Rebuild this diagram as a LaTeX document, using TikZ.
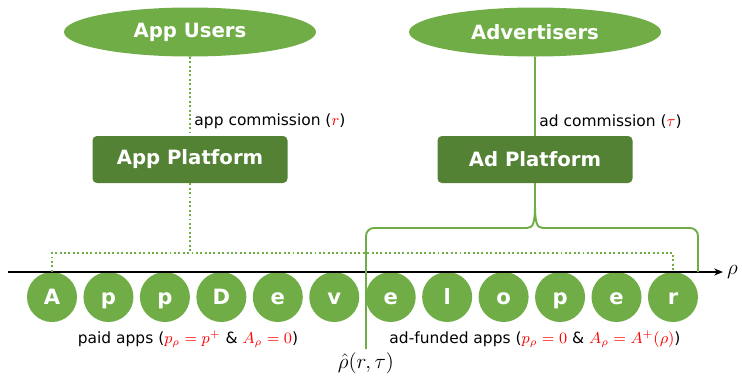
\documentclass[tikz,border=0pt]{standalone}
\usepackage{amsmath,amssymb}
\usepackage[no-math]{fontspec}
\setmainfont{DejaVu Sans}
\usetikzlibrary{shapes.geometric, arrows.meta, calc}
\definecolor{SSTgreen}{HTML}{70AD47}
\definecolor{SSTdark}{HTML}{548235}
\tikzset{
    sidegroup/.style={ellipse, fill=SSTgreen, text=white, inner sep=0pt,
        minimum width=5.04cm, minimum height=0.98cm,
        font=\bfseries\fontsize{11.2}{13}\selectfont},
    platform/.style={rectangle, rounded corners=2.5pt, fill=SSTdark, text=white,
        minimum width=3.9cm, minimum height=0.94cm, inner sep=0pt,
        font=\bfseries\fontsize{11.2}{13}\selectfont},
    devcircle/.style={circle, fill=SSTgreen, text=white, minimum size=1cm, inner sep=0pt,
        text height=8.4pt, text depth=0pt, font=\bfseries\fontsize{12}{13}\selectfont},
    appline/.style={SSTgreen, line width=1.1pt, dash pattern=on 1.1pt off 1.4pt},
    adline/.style={SSTgreen, line width=1.1pt},
    lbl/.style={text=black, font=\fontsize{8.8}{10}\selectfont, inner sep=1pt},
}

\begin{document}
\begin{tikzpicture}
    \useasboundingbox (0,0) rectangle (14.84,7.52);

    % ---- top row and platforms
    \node[sidegroup] (users)   at (3.80,6.88)  {App Users};
    \node[sidegroup] (advert)  at (10.70,6.88) {Advertisers};
    \node[platform]  (appplat) at (3.80,4.33)  {App Platform};
    \node[platform]  (adplat)  at (10.70,4.33) {Ad Platform};

    % ---- developers
    \foreach \l [count=\i] in {A,p,p,D,e,v,e,l,o,p,e,r}{
        \node[devcircle] (c\i) at ({1.04+1.129*(\i-1)},1.58) {\l};
    }

    \coordinate (ax0)     at (0.16,2.08);
    \coordinate (ax1)     at (14.46,2.08);
    \coordinate (appjoin) at (3.80,2.46);
    \coordinate (tip)     at (10.70,3.44);
    \coordinate (brR)     at (13.96,2.08);

    \draw[-{Stealth[length=5pt,width=4pt]}, line width=0.8pt] (ax0) -- (ax1)
        node[right, inner sep=2pt, font=\fontsize{13}{15}\selectfont] (rho) {$\rho$};

    % ---- app side (dotted)
    \draw[appline] (users) -- node[lbl, pos=0.82, right=1pt] {app commission (\textcolor{red}{$r$})} (appplat);
    \draw[appline] (appplat) -- (appjoin);
    \draw[appline] (c1.north) |- (appjoin) -| (c12.north);

    % ---- ad side (brace)
    \node[font=\fontsize{12.5}{14}\selectfont, inner sep=0pt] (rhohat) at (7.32,0.26) {$\hat{\rho}(r,\tau)$};
    \draw[adline] (advert) -- node[lbl, pos=0.82, right=1pt] {ad commission (\textcolor{red}{$\tau$})} (adplat);
    \draw[adline] (adplat) -- (tip);
    \draw[adline] ($(rhohat.north)+(0,0.06)$) -- (7.32,2.80) to[out=90,in=180] (7.48,2.96) -- (10.54,2.96)
        .. controls (10.67,2.96) and (10.70,3.08) .. (tip)
        .. controls (10.70,3.08) and (10.73,2.96) .. (10.86,2.96) -- (13.80,2.96)
        to[out=0,in=90] (13.96,2.80) -- (brR);

    % ---- regions
    \node[lbl] (paid) at (3.76,0.74)
        {paid apps (\textcolor{red}{$p_\rho = p^{+}$} \& \textcolor{red}{$A_\rho = 0$})};
    \node[lbl] (adfund) at (10.70,0.74)
        {ad-funded apps (\textcolor{red}{$p_\rho = 0$} \& \textcolor{red}{$A_\rho = A^{+}(\rho)$})};
\end{tikzpicture}
\end{document}
